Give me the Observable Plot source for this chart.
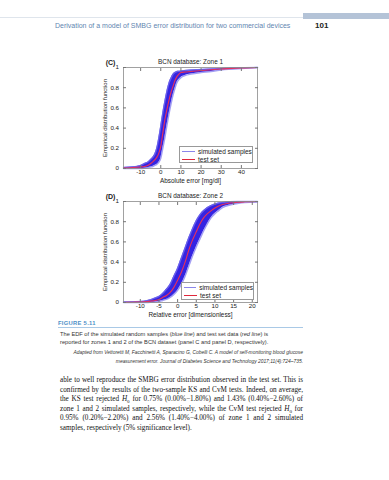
<!DOCTYPE html>
<html><head><meta charset="utf-8">
<script src="https://cdn.jsdelivr.net/npm/d3@7"></script>
<script src="https://cdn.jsdelivr.net/npm/@observablehq/plot@0.6"></script>
<style>
html,body{margin:0;padding:0;background:#fff;}
#page{position:relative;width:389px;height:480px;overflow:hidden;font-family:"Liberation Sans",Arial,sans-serif;color:#222;}
.abs{position:absolute;white-space:nowrap;}
.chart{position:absolute;left:0;}
.ylab{position:absolute;white-space:nowrap;font-size:6px;line-height:6px;color:#222;transform:translate(-50%,-50%) rotate(-90deg);}
.legend{position:absolute;background:#fff;border:0.6px solid #999;font-size:6.5px;line-height:7.5px;box-sizing:border-box;padding:1px 0 0 2px;}
.legend .row{display:flex;align-items:center;white-space:nowrap;}
.legend .sw{width:13px;margin-right:3px;}
.body{position:absolute;left:60px;width:243px;font-family:"Liberation Serif","Times New Roman",serif;font-size:7.2px;line-height:9.5px;color:#111;}
.body div{text-align:justify;text-align-last:justify;height:9.5px;overflow:visible;}
.body div.last{text-align-last:left;}
</style></head><body>
<div id="page">
  <div class="abs" style="left:0;top:17px;width:303px;height:1px;background:#dfe5ec"></div>
  <div class="abs" style="left:303px;top:13px;width:86px;height:5.5px;background:#b4c3d7"></div>
  <div class="abs" id="runhead" style="left:55px;top:21px;font-size:7px;line-height:10px;color:#5f86b0"></div>
  <div class="abs" id="pageno" style="left:315px;top:21px;font-size:8px;line-height:10px;font-weight:bold;color:#222"></div>
  <div id="c1" class="chart" style="top:52px"></div>
  <div id="c2" class="chart" style="top:186px"></div>
  <div id="yl1" class="ylab" style="left:104.5px;top:117.5px"></div>
  <div id="yl2" class="ylab" style="left:104.5px;top:251.5px"></div>
  <div id="lg1" class="legend" style="left:179px;top:146px;width:74px;height:17px"></div>
  <div id="lg2" class="legend" style="left:181px;top:282px;width:73px;height:18px"></div>
  <div class="abs" id="figlabel" style="left:58px;top:319px;font-size:5.8px;line-height:8px;font-weight:bold;color:#4d8fc7;letter-spacing:0.3px"></div>
  <div class="abs" style="left:58px;top:327px;width:245px;height:0.8px;background:#a9c9e6"></div>
  <div class="abs" id="cap" style="left:60px;top:330px;font-size:5.7px;line-height:8.3px;color:#333"></div>
  <div class="abs" id="attr" style="right:86px;top:348px;font-size:4.9px;line-height:9px;font-style:italic;color:#333;text-align:right"></div>
  <div class="body" id="body" style="top:376px"></div>
</div>
<script>
// ---------- data ----------
const yTicks = [0, 0.2, 0.4, 0.6, 0.8, 1];

// Zone 1: absolute error [mg/dl]
const z1X     = [-18.5, -15, -12, -10, -8, -6, -5, -4, -3, -2, -1, 0, 1, 2, 3, 4, 5, 6, 7, 8, 9, 10, 12, 15, 20, 25, 30, 35, 40, 48];
const z1SimHi = [0.01, 0.015, 0.02, 0.03, 0.05, 0.07, 0.09, 0.11, 0.14, 0.2, 0.3, 0.42, 0.55, 0.66, 0.76, 0.84, 0.89, 0.93, 0.95, 0.96, 0.963, 0.966, 0.97, 0.975, 0.98, 0.985, 0.99, 0.994, 0.998, 1];
const z1SimLo = [0, 0, 0, 0, 0.003, 0.01, 0.015, 0.02, 0.03, 0.04, 0.06, 0.1, 0.2, 0.3, 0.42, 0.53, 0.63, 0.72, 0.79, 0.85, 0.88, 0.9, 0.92, 0.935, 0.95, 0.96, 0.975, 0.983, 0.99, 1];
const z1Test  = [0.005, 0.008, 0.012, 0.015, 0.02, 0.035, 0.05, 0.065, 0.085, 0.11, 0.15, 0.22, 0.35, 0.48, 0.58, 0.67, 0.75, 0.81, 0.87, 0.91, 0.935, 0.95, 0.955, 0.96, 0.97, 0.978, 0.985, 0.99, 0.995, 1];
const z1XTicks = [-10, 0, 10, 20, 30, 40];

// Zone 2: relative error [dimensionless]
const z2X     = [-14.5, -12, -10, -8, -7, -6, -5, -4, -3, -2, -1, 0, 1, 2, 3, 4, 5, 6, 7, 8, 9, 10, 11, 12, 14, 16, 18, 21.4];
const z2SimHi = [0.005, 0.008, 0.01, 0.02, 0.03, 0.045, 0.06, 0.09, 0.13, 0.18, 0.26, 0.34, 0.44, 0.54, 0.64, 0.73, 0.81, 0.87, 0.91, 0.94, 0.96, 0.975, 0.985, 0.99, 0.997, 1, 1, 1];
const z2SimLo = [0, 0, 0, 0, 0.002, 0.005, 0.01, 0.02, 0.03, 0.05, 0.08, 0.12, 0.18, 0.26, 0.36, 0.46, 0.55, 0.63, 0.71, 0.78, 0.84, 0.88, 0.91, 0.94, 0.965, 0.98, 0.99, 0.995];
const z2Test  = [0, 0.003, 0.005, 0.01, 0.015, 0.02, 0.03, 0.05, 0.07, 0.1, 0.15, 0.22, 0.3, 0.4, 0.52, 0.62, 0.7, 0.78, 0.84, 0.88, 0.91, 0.935, 0.955, 0.97, 0.985, 0.993, 0.997, 1];
const z2XTicks = [-10, -5, 0, 5, 10, 15, 20];

const panelTags = ["(C)", "(D)"];
const panelTitles = ["BCN database: Zone 1", "BCN database: Zone 2"];
const xLabels = ["Absolute error [mg/dl]", "Relative error [dimensionless]"];
const yLabel = "Empirical distribution function";
const legendLabels = ["simulated samples", "test set"];
const colors = {band: "#3424e2", bandEdge: "#7e76ee", test: "#e8305a", legendSim: "#8b86ea", legendTest: "#e0283c"};

const runningHead = "Derivation of a model of SMBG error distribution for two commercial devices";
const pageNumber = "101";
const figureLabel = "FIGURE 5.11";
const captionLines = [
  'The EDF of the simulated random samples (<i>blue line</i>) and test set data (<i>red line</i>) is',
  'reported for zones 1 and 2 of the BCN dataset (panel C and panel D, respectively).'
];
const attributionLines = [
  "Adapted from Vettoretti M, Facchinetti A, Sparacino G, Cobelli C. A model of self-monitoring blood glucose",
  "measurement error. Journal of Diabetes Science and Technology 2017;11(4):724\u2013735."
];
const bodyLines = [
  "able to well reproduce the SMBG error distribution observed in the test set. This is",
  "confirmed by the results of the two-sample KS and CvM tests. Indeed, on average,",
  "the KS test rejected <i>H</i><sub style='font-size:5px;vertical-align:-1.5px'>0</sub> for 0.75% (0.00%\u22121.80%) and 1.43% (0.40%\u22122.60%) of",
  "zone 1 and 2 simulated samples, respectively, while the CvM test rejected <i>H</i><sub style='font-size:5px;vertical-align:-1.5px'>0</sub> for",
  "0.95% (0.20%\u22122.20%) and 2.56% (1.40%\u22124.00%) of zone 1 and 2 simulated",
  "samples, respectively (5% significance level)."
];

// ---------- drawing ----------
function panel(xs, hi, lo, test, domain, xticks, i) {
  const band = xs.map((v, k) => ({x: v, hi: hi[k], lo: lo[k]}));
  const ts = xs.map((v, k) => ({x: v, f: test[k]}));
  return Plot.plot({
    width: 389, height: 135,
    marginLeft: 123, marginRight: 132, marginTop: 15, marginBottom: 19,
    style: {fontFamily: "Liberation Sans, Arial, sans-serif", fontSize: "6.2px", background: "transparent", color: "#222", overflow: "visible"},
    x: {domain, ticks: xticks},
    y: {domain: [0, 1], ticks: yTicks},
    marks: [
      Plot.areaY(band, {x: "x", y1: "lo", y2: "hi", fill: colors.band, curve: "monotone-x"}),
      Plot.lineY(band, {x: "x", y: "hi", stroke: colors.bandEdge, strokeWidth: 1.4, strokeOpacity: 0.7, curve: "monotone-x"}),
      Plot.lineY(band, {x: "x", y: "lo", stroke: colors.bandEdge, strokeWidth: 1.4, strokeOpacity: 0.7, curve: "monotone-x"}),
      Plot.lineY(ts, {x: "x", y: "f", stroke: colors.test, strokeWidth: 1.1, curve: "monotone-x"}),
      Plot.frame({stroke: "#8a8a8a", strokeWidth: 0.8}),
      Plot.axisX({anchor: "bottom", ticks: xticks, tickSize: -3, tickPadding: 4, label: null, stroke: "#777", tickFormat: d => String(d)}),
      Plot.axisX({anchor: "top", ticks: xticks, tickSize: -3, label: null, stroke: "#777", tickFormat: () => ""}),
      Plot.axisY({anchor: "left", ticks: yTicks, tickSize: -3, tickPadding: 7.5, label: null, stroke: "#777", tickFormat: d => String(d)}),
      Plot.axisY({anchor: "right", ticks: yTicks, tickSize: -3, label: null, stroke: "#777", tickFormat: () => ""}),
      Plot.text([panelTitles[i]], {text: d => d, frameAnchor: "top", textAnchor: "middle", lineAnchor: "middle", dy: -6, fontSize: 6.4}),
      Plot.text([panelTags[i]], {text: d => d, frameAnchor: "top-left", textAnchor: "middle", lineAnchor: "middle", dx: -13, dy: -5, fontWeight: "bold", fontSize: 7}),
      Plot.text([xLabels[i]], {text: d => d, frameAnchor: "bottom", textAnchor: "middle", lineAnchor: "middle", dy: 12, fontSize: 6.4})
    ]
  });
}

document.getElementById("c1").append(panel(z1X, z1SimHi, z1SimLo, z1Test, [-18.5, 48], z1XTicks, 0));
document.getElementById("c2").append(panel(z2X, z2SimHi, z2SimLo, z2Test, [-14.5, 21.4], z2XTicks, 1));
document.getElementById("yl1").textContent = yLabel;
document.getElementById("yl2").textContent = yLabel;

function legend(id) {
  const el = document.getElementById(id);
  const sw = [
    `<div class="sw" style="border-top:1px solid ${colors.legendSim}"></div>`,
    `<div class="sw" style="border-top:1.4px solid ${colors.legendTest}"></div>`
  ];
  el.innerHTML = legendLabels.map((t, k) => `<div class="row">${sw[k]}<span>${t}</span></div>`).join("");
}
legend("lg1"); legend("lg2");

document.getElementById("runhead").textContent = runningHead;
document.getElementById("pageno").textContent = pageNumber;
document.getElementById("figlabel").textContent = figureLabel;
document.getElementById("cap").innerHTML = captionLines.join("<br>");
document.getElementById("attr").innerHTML = attributionLines.join("<br>");
document.getElementById("body").innerHTML = bodyLines.map((l, k) => `<div class="${k === bodyLines.length - 1 ? "last" : ""}">${l}</div>`).join("");
</script>
</body></html>
